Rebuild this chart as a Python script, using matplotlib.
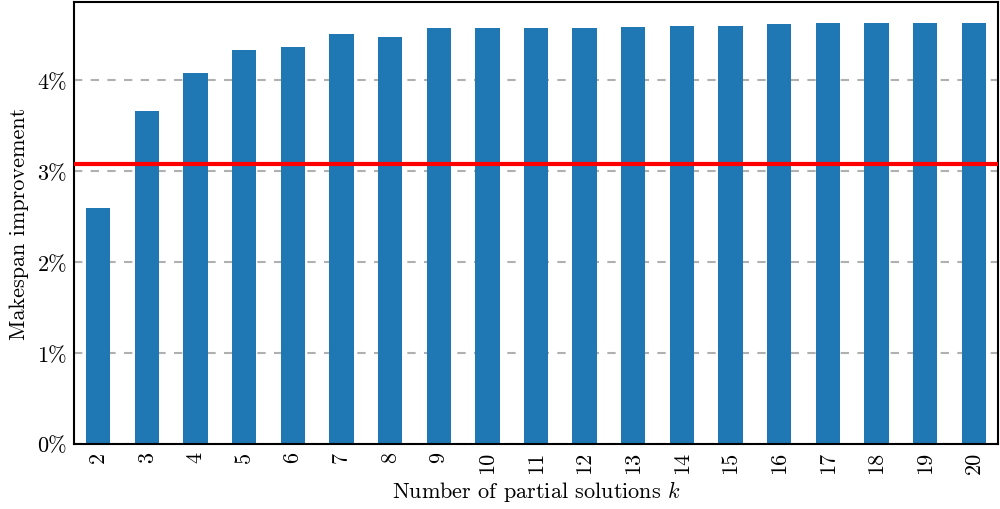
import matplotlib.pyplot as plt
import numpy as np

plt.rcParams['font.family'] = 'cmr10'
plt.rcParams['mathtext.fontset'] = 'cm'
plt.rcParams['axes.formatter.use_mathtext'] = True

# makespan improvement (%) per number of partial solutions k
k_values = list(range(2, 21))
improvement = [2.60, 3.66, 4.08, 4.33, 4.37, 4.51, 4.48, 4.58, 4.58, 4.58,
               4.58, 4.59, 4.60, 4.60, 4.615, 4.63, 4.63, 4.63, 4.63]
baseline = 3.08
y_ticks = [0, 1, 2, 3, 4]

fig = plt.figure(figsize=(10, 5.1), dpi=100)
ax = fig.add_axes([0.074, 0.128, 0.924, 0.866])

pos = np.arange(len(k_values))
ax.bar(pos, improvement, width=0.5, color='#1f77b4', zorder=2)
ax.axhline(baseline, color='red', linewidth=3, zorder=3)

ax.set_xlim(-0.5, len(k_values) - 0.5)
ax.set_ylim(0, max(improvement) * 1.05)
ax.set_xticks(pos)
ax.set_xticklabels([str(k) for k in k_values], rotation=90, fontsize=16)
ax.set_yticks(y_ticks)
ax.set_yticklabels(['{}%'.format(t) for t in y_ticks], fontsize=16)
ax.tick_params(length=0, pad=5)

ax.yaxis.grid(True, linestyle=(0, (4, 4)), color='#b0b0b0', linewidth=1.5, zorder=0)
ax.set_axisbelow(True)
for s in ax.spines.values():
    s.set_linewidth(1.5)
    s.set_color('black')

ax.set_xlabel('Number of partial solutions $k$', fontsize=16, labelpad=4)
ax.set_ylabel('Makespan improvement', fontsize=16, labelpad=6)

fig.savefig('out.png')
